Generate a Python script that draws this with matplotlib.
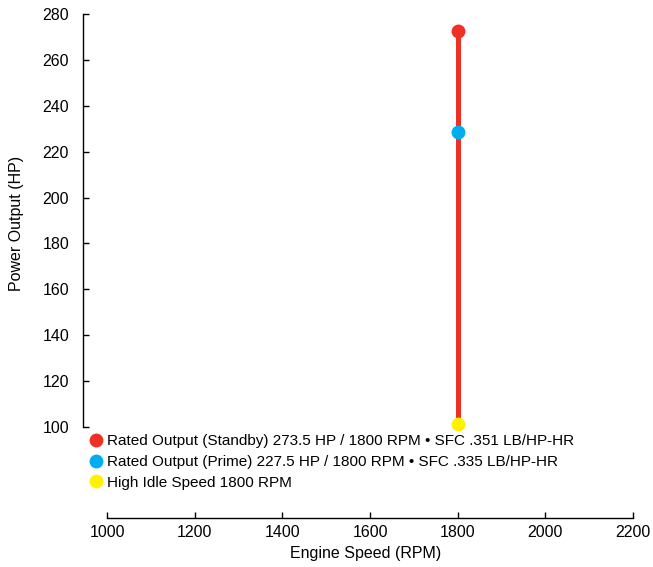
import matplotlib
matplotlib.use("Agg")
import matplotlib.pyplot as plt

plt.rcParams['font.family'] = ['Liberation Sans', 'DejaVu Sans']

labels = [
    "Rated Output (Standby) 273.5 HP / 1800 RPM \u2022 SFC .351 LB/HP-HR",
    "Rated Output (Prime) 227.5 HP / 1800 RPM \u2022 SFC .335 LB/HP-HR",
    "High Idle Speed 1800 RPM",
]
speeds = [1800, 1800, 1800]
powers = [272.8, 228.6, 101.4]
colors = ["#EE3124", "#00AEEF", "#FFF200"]
x_ticks = [1000, 1200, 1400, 1600, 1800, 2000, 2200]
y_ticks = [100, 120, 140, 160, 180, 200, 220, 240, 260, 280]

fig = plt.figure(figsize=(6.53, 5.67), dpi=100)
W, H = 653, 567
left, right, top, bottom = 83, 633, 14, 518
aw, ah = right - left, bottom - top
ax = fig.add_axes([left / W, 1 - bottom / H, aw / W, ah / H])

ax.plot([speeds[0], speeds[-1]], [powers[0], powers[-1]], color=colors[0], lw=3.6,
        solid_capstyle='butt', zorder=2)
for s, p, c, lab in zip(speeds, powers, colors, labels):
    ax.plot([s], [p], 'o', color=c, markersize=10, markeredgewidth=0, label=lab, zorder=3)

ax.set_xlim(945, 2200)
ax.set_ylim(60.35, 280)
ax.set_xticks(x_ticks)
ax.set_yticks(y_ticks)
for sp in ['top', 'right']:
    ax.spines[sp].set_visible(False)
ax.spines['left'].set_bounds(100, 280)
ax.spines['bottom'].set_bounds(1000, 2200)
ax.spines['left'].set_linewidth(1.0)
ax.spines['bottom'].set_linewidth(1.0)
ax.tick_params(axis='both', direction='in', length=4, width=1, labelsize=11.5, colors='black')
ax.tick_params(axis='y', pad=10)
ax.tick_params(axis='x', pad=5)

ax.set_xlabel("Engine Speed (RPM)", fontsize=11.5)
ax.set_ylabel("Power Output (HP)", fontsize=11.5)
ax.xaxis.set_label_coords((366 - left) / aw, -(546 - bottom) / ah)
ax.yaxis.set_label_coords((24 - left) / aw, (bottom - 223) / ah)

leg = ax.legend(loc='upper left', bbox_to_anchor=(91 / W, 1 - 434 / H),
                bbox_transform=fig.transFigure, frameon=False, fontsize=11,
                handlelength=0.6, handletextpad=0.45, labelspacing=0.45,
                borderpad=0, borderaxespad=0, markerscale=1.0)

fig.savefig("out.png", dpi=100)
